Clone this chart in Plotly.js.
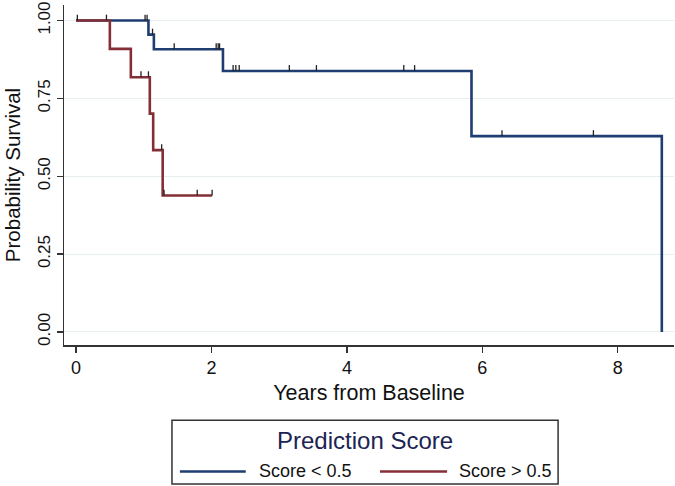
<!DOCTYPE html>
<html>
<head>
<meta charset="utf-8">
<script src="https://cdn.plot.ly/plotly-3.0.1.min.js"></script>
<style>html,body{margin:0;padding:0;background:#fff;}#chart{width:675px;height:486px;}</style>
</head>
<body>
<div id="chart"></div>
<script>
// Kaplan-Meier step data
const lowTimes = [0, 1.07, 1.15, 2.17, 5.84, 8.65];
const lowSurv  = [1.0, 0.955, 0.908, 0.838, 0.629, 0.0];
const lowCensor = [0.02, 0.45, 1.02, 1.05, 1.13, 1.45, 2.07, 2.10, 2.12, 2.32, 2.36, 2.41, 3.15, 3.55, 4.84, 5.00, 6.29, 7.64];

const highTimes = [0, 0.50, 0.81, 1.09, 1.14, 1.28, 2.01];
const highSurv  = [1.0, 0.909, 0.818, 0.701, 0.584, 0.438, 0.438];
const highCensor = [0.96, 1.07, 1.265, 1.30, 1.79, 2.01];

const seriesNames = ["Score < 0.5", "Score > 0.5"];
const legendTitle = "Prediction Score";
const xTicks = [0, 2, 4, 6, 8];
const yTicks = [0, 0.25, 0.5, 0.75, 1];

const colLow = "#1f3d70";
const colHigh = "#842f37";
const tickH = 0.019;

function survAt(times, surv, t) {
  let s = surv[0];
  for (let i = 0; i < times.length; i++) { if (times[i] <= t) s = surv[i]; }
  return s;
}
function censorTrace(times, surv, cens) {
  const x = [], y = [];
  cens.forEach(t => {
    const s = survAt(times, surv, t);
    x.push(t, t, null); y.push(s, s + tickH, null);
  });
  return {x, y, mode: "lines", line: {color: "#222", width: 1.3}, showlegend: false, hoverinfo: "skip"};
}

const traces = [
  {x: lowTimes, y: lowSurv, mode: "lines", line: {shape: "hv", color: colLow, width: 2.6}, name: seriesNames[0], showlegend: false},
  {x: highTimes, y: highSurv, mode: "lines", line: {shape: "hv", color: colHigh, width: 2.6}, name: seriesNames[1], showlegend: false},
  censorTrace(lowTimes, lowSurv, lowCensor),
  censorTrace(highTimes, highSurv, highCensor)
];

const font = "Arial, 'Liberation Sans', sans-serif";
const layout = {
  width: 675, height: 486,
  margin: {l: 64, r: 1, t: 5, b: 141},
  paper_bgcolor: "#fff", plot_bgcolor: "#fff",
  font: {family: font, color: "#111", size: 17},
  xaxis: {
    range: [-0.177, 8.83], tickvals: xTicks, ticktext: xTicks.map(String),
    showgrid: false, zeroline: false, showline: true, linecolor: "#333", linewidth: 1.5,
    ticks: "outside", ticklen: 6, tickwidth: 1.3, tickcolor: "#333",
    tickfont: {size: 18},
    title: {text: "Years from Baseline", font: {size: 21.5}, standoff: 8}
  },
  yaxis: {
    range: [-0.042, 1.05], tickvals: yTicks, ticktext: yTicks.map(v => v.toFixed(2)),
    tickangle: -90,
    showgrid: true, gridcolor: "#e6eef0", gridwidth: 1, zeroline: false,
    showline: true, linecolor: "#333", linewidth: 1.5,
    ticks: "outside", ticklen: 6, tickwidth: 1.3, tickcolor: "#333",
    tickfont: {size: 17},
    title: {text: "Probability Survival", font: {size: 20.5}, standoff: 8}
  },
  shapes: [
    {type: "rect", xref: "paper", yref: "paper", x0: 0.177, x1: 0.810, y0: -0.409, y1: -0.221, line: {color: "#333", width: 1.5}, fillcolor: "rgba(0,0,0,0)"},
    {type: "line", xref: "paper", yref: "paper", x0: 0.190, x1: 0.298, y0: -0.372, y1: -0.372, line: {color: colLow, width: 2.6}},
    {type: "line", xref: "paper", yref: "paper", x0: 0.518, x1: 0.628, y0: -0.372, y1: -0.372, line: {color: colHigh, width: 2.6}}
  ],
  annotations: [
    {xref: "paper", yref: "paper", x: 0.4935, y: -0.282, text: legendTitle, showarrow: false, xanchor: "center", yanchor: "middle", font: {size: 24, color: "#1c2453"}},
    {xref: "paper", yref: "paper", x: 0.316, y: -0.372, text: seriesNames[0], showarrow: false, xanchor: "left", yanchor: "middle", font: {size: 18, color: "#111"}},
    {xref: "paper", yref: "paper", x: 0.645, y: -0.372, text: seriesNames[1], showarrow: false, xanchor: "left", yanchor: "middle", font: {size: 18, color: "#111"}}
  ]
};

Plotly.newPlot("chart", traces, layout, {displayModeBar: false, staticPlot: true});
</script>
</body>
</html>
